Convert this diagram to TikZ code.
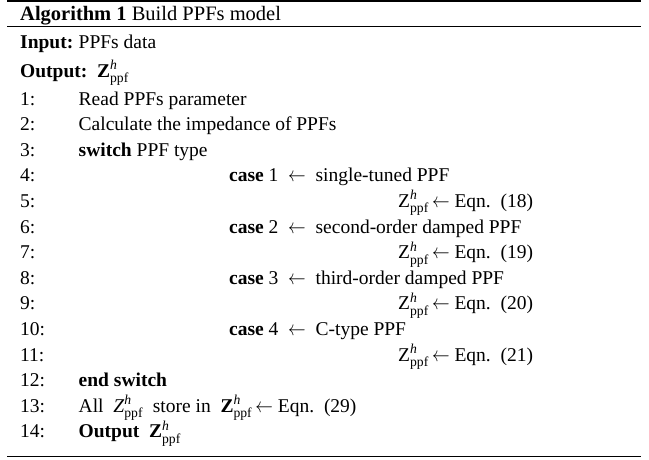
\documentclass[tikz,border=0pt]{standalone}
\usepackage{amsmath}
\usepackage{graphicx}
\usepackage{fontspec}
\setmainfont{Liberation Serif}
\usepackage{tikz}
\usetikzlibrary{positioning}
\newcommand{\Zppf}[1]{#1$^{\text{\itshape h}}_{\text{ppf}}$}
\newcommand{\larr}{\scalebox{0.85}[1]{$\leftarrow$}}
\tikzset{
  algtext/.style={anchor=base west, inner sep=0pt, font=\fontsize{19.5}{23}\selectfont},
  captext/.style={algtext, font=\fontsize{20.5}{24}\selectfont},
  toprule/.style={line width=1.6pt},
  midrule/.style={line width=1.3pt},
}

\begin{document}
\begin{tikzpicture}[x=1pt, y=-1pt]
  \useasboundingbox (0,0) rectangle (649,459);
  % rules of the algorithm box
  \draw[toprule] (7,1.2) -- (641,1.2);
  \draw[midrule] (7,26.5) -- (641,26.5);
  \draw[midrule] (7,456.5) -- (641,456.5);

  \node[captext] (title) at (20,20) {\textbf{Algorithm 1} Build PPFs model};
  \node[algtext] (inlbl) at (20,48) {\textbf{Input:}};
  \node[algtext, right=5pt of inlbl.base east, anchor=base west] (indata) {PPFs data};
  \node[algtext] (output) at (20,77) {\textbf{Output:}~~\Zppf{\textbf{Z}}};

  % line numbers
  \foreach \k in {1,...,14}
    \node[algtext] (num\k) at (20,{105+25.6*(\k-1)}) {\k:};

  \node[algtext] (step1) at (indata.west |- num1.base) {Read PPFs parameter};
  \node[algtext] (step2) at (indata.west |- num2.base) {Calculate the impedance of PPFs};
  \node[algtext] (step3) at (indata.west |- num3.base) {\textbf{switch} PPF type};
  \node[algtext] (step4) at (229,{105+25.6*3}) {\textbf{case} 1~~\larr~~single-tuned PPF};
  \node[algtext] (step5) at (398,{105+25.6*4}) {\Zppf{Z}\,\larr\ Eqn.~~(18)};
  \node[algtext] (step6) at (229,{105+25.6*5}) {\textbf{case} 2~~\larr~~second-order damped PPF};
  \node[algtext] (step7) at (398,{105+25.6*6}) {\Zppf{Z}\,\larr\ Eqn.~~(19)};
  \node[algtext] (step8) at (229,{105+25.6*7}) {\textbf{case} 3~~\larr~~third-order damped PPF};
  \node[algtext] (step9) at (398,{105+25.6*8}) {\Zppf{Z}\,\larr\ Eqn.~~(20)};
  \node[algtext] (step10) at (229,{105+25.6*9}) {\textbf{case} 4~~\larr~~C-type PPF};
  \node[algtext] (step11) at (398,{105+25.6*10}) {\Zppf{Z}\,\larr\ Eqn.~~(21)};
  \node[algtext] (step12) at (indata.west |- num12.base) {\textbf{end switch}};
  \node[algtext] (step13) at (indata.west |- num13.base) {All~~\Zppf{\textit{Z}}~~store in~~\Zppf{\textbf{Z}}\,\larr\ Eqn.~~(29)};
  \node[algtext] (step14) at (indata.west |- num14.base) {\textbf{Output}~~\Zppf{\textbf{Z}}};
\end{tikzpicture}
\end{document}
